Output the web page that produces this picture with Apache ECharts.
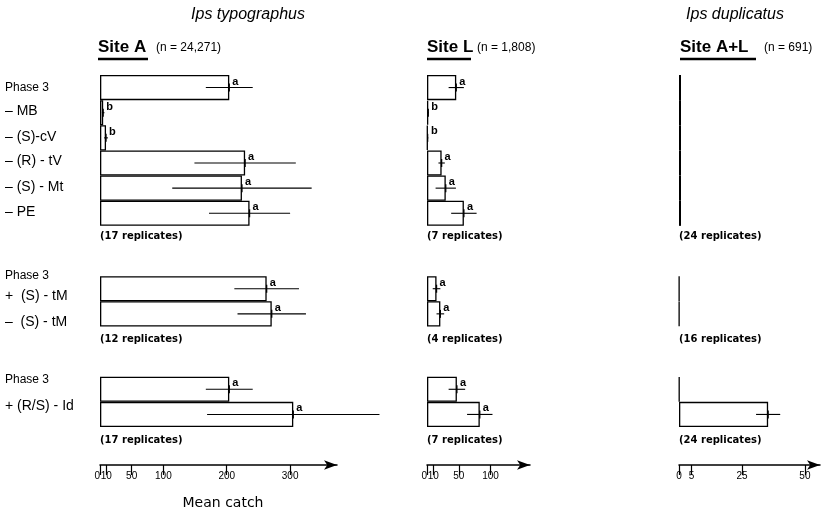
<!DOCTYPE html>
<html><head><meta charset="utf-8">
<script src="https://cdn.jsdelivr.net/npm/echarts@6/dist/echarts.min.js"></script>
<style>html,body{margin:0;padding:0;background:#fff}#c{width:836px;height:513px}</style>
</head><body><div id="c"></div>
<script>
// rows: 0-5 group 1, 8-9 group 2, 12-13 group 3 (6,7,10,11 are gaps)
const rows = ['0','1','2','3','4','5','6','7','8','9','10','11','12','13'];
const siteA       = [204, 5, 9.5, 229, 224, 236, null, null, 263, 271, null, null, 204, 305];
const siteAErr    = [37, 2, 3, 80, 110, 64, null, null, 51, 54, null, null, 37, 136];
const siteALet    = ['a','b','b','a','a','a','','','a','a','','','a','a'];
const siteL       = [46, 2, 1, 23, 29.5, 58, null, null, 15, 21, null, null, 47, 83];
const siteLErr    = [12, 1, 1, 5, 16, 20, null, null, 6, 6, null, null, 13, 20];
const siteLLet    = ['a','b','b','a','a','a','','','a','a','','','a','a'];
const siteAL      = [0.8, 0.8, 0.8, 0.8, 0.8, 0.8, null, null, 0.1, 0.1, null, null, 0.15, 35.4];
const siteALErr   = [0, 0, 0, 0, 0, 0, null, null, 0, 0, null, null, 0, 4.8];
const siteALLet   = ['','','','','','','','','','','','','',''];
const ticksA  = [0, 10, 50, 100, 200, 300];
const ticksL  = [0, 10, 50, 100];
const ticksAL = [0, 5, 25, 50];
const repA  = ['(17 replicates)', '(12 replicates)', '(17 replicates)'];
const repL  = ['(7 replicates)', '(4 replicates)', '(7 replicates)'];
const repAL = ['(24 replicates)', '(16 replicates)', '(24 replicates)'];
const leftLabels = [
  ['Phase 3', 89, 12], ['\u2013 MB', 112, 14], ['\u2013 (S)-cV', 138, 14], ['\u2013 (R) - tV', 162, 14],
  ['\u2013 (S) - Mt', 188, 14], ['\u2013 PE', 213, 14],
  ['Phase 3', 277, 12], ['+  (S) - tM', 297, 14], ['\u2013  (S) - tM', 323, 14],
  ['Phase 3', 381, 12], ['+ (R/S) - Id', 407, 14]
];

const chart = echarts.init(document.getElementById('c'));
const cols = [
  {left: 100, width: 237, max: 374, vals: siteA, err: siteAErr, let: siteALet, ticks: ticksA, rep: repA, zeroAlign: 'right'},
  {left: 427, width: 103, max: 162, vals: siteL, err: siteLErr, let: siteLLet, ticks: ticksL, rep: repL, zeroAlign: 'right'},
  {left: 679, width: 141, max: 56, vals: siteAL, err: siteALErr, let: siteALLet, ticks: ticksAL, rep: repAL, zeroAlign: 'center'}
];
const grids = [], xAxes = [], yAxes = [], series = [];
const labelStyle = {color: '#000', fontSize: 10, fontFamily: 'Liberation Sans', margin: 6, hideOverlap: false};
cols.forEach((c, i) => {
  grids.push({left: c.left, width: c.width, top: 75, height: 352});
  // main axis: line, ticks and labels except the first (0), which sits close to 10
  xAxes.push({
    gridIndex: i, type: 'value', min: 0, max: c.max, position: 'bottom', offset: 38,
    splitLine: {show: false},
    axisLine: {show: true, lineStyle: {color: '#000', width: 1.5}, symbol: ['none', 'arrow'], symbolSize: [7, 13]},
    axisTick: {show: true, length: 10, lineStyle: {color: '#000', width: 1.2}, customValues: c.ticks},
    axisLabel: Object.assign({customValues: c.ticks.slice(1)}, labelStyle)
  });
  yAxes.push({gridIndex: i, type: 'category', data: rows, inverse: true, show: false});
  series.push({
    type: 'bar', xAxisIndex: i, yAxisIndex: i, barCategoryGap: '0%',
    data: c.vals.map((v, k) => ({value: v, label: {formatter: c.let[k]}})),
    itemStyle: {color: '#fff', borderColor: '#000', borderWidth: 1.3},
    label: {show: true, position: ['100%', '0%'], offset: [3, 1], align: 'left', verticalAlign: 'top',
      color: '#000', fontSize: 11, fontWeight: 'bold', fontFamily: 'Liberation Sans'},
    animation: false, z: 2
  });
  series.push({
    type: 'custom', xAxisIndex: i, yAxisIndex: i, clip: false, z: 3,
    data: c.vals.map((v, k) => v == null ? null : [v, k, c.err[k]]).filter(d => d && d[2] > 0),
    encode: {x: 0, y: 1},
    renderItem: (params, api) => {
      const v = api.value(0), k = api.value(1), e = api.value(2);
      const p0 = api.coord([v - e, k]), p1 = api.coord([v + e, k]), pm = api.coord([v, k]);
      return {type: 'group', children: [
        {type: 'line', shape: {x1: p0[0], y1: p0[1], x2: p1[0], y2: p1[1]}, style: {stroke: '#000', lineWidth: 1.1}},
        {type: 'line', shape: {x1: pm[0], y1: pm[1] - 4, x2: pm[0], y2: pm[1] + 4}, style: {stroke: '#000', lineWidth: 1.3}}
      ]};
    },
    animation: false
  });
});
// second x axis per grid carrying only the "0" label
cols.forEach((c, i) => {
  xAxes.push({
    gridIndex: i, type: 'value', min: 0, max: c.max, position: 'bottom', offset: 38,
    splitLine: {show: false}, axisLine: {show: false}, axisTick: {show: false},
    axisLabel: Object.assign({customValues: [c.ticks[0]], align: c.zeroAlign}, labelStyle)
  });
});

const graphic = [];
const repY = [237, 340, 441];
cols.forEach(c => c.rep.forEach((t, g) => graphic.push({type: 'text', left: c.left, top: repY[g] - 6,
  style: {text: t, fontSize: 10, fontWeight: 'bold', fontFamily: 'DejaVu Sans', fill: '#000'}})));
leftLabels.forEach(l => graphic.push({type: 'text', left: 5, top: l[1] - l[2] / 2 - 1,
  style: {text: l[0], fontSize: l[2], fontFamily: 'Liberation Sans', fill: '#000'}}));
graphic.push(
  {type: 'text', x: 248, y: 15, style: {text: 'Ips typographus', fontSize: 16, fontStyle: 'italic', fontFamily: 'Liberation Sans', fill: '#000', align: 'center', verticalAlign: 'middle'}},
  {type: 'text', x: 735, y: 15, style: {text: 'Ips duplicatus', fontSize: 16, fontStyle: 'italic', fontFamily: 'Liberation Sans', fill: '#000', align: 'center', verticalAlign: 'middle'}},
  {type: 'text', x: 98, y: 47, style: {text: 'Site A', fontSize: 17, fontWeight: 'bold', fontFamily: 'Liberation Sans', fill: '#000', verticalAlign: 'middle'}},
  {type: 'text', x: 156, y: 48, style: {text: '(n = 24,271)', fontSize: 12, fontFamily: 'Liberation Sans', fill: '#000', verticalAlign: 'middle'}},
  {type: 'text', x: 427, y: 47, style: {text: 'Site L', fontSize: 17, fontWeight: 'bold', fontFamily: 'Liberation Sans', fill: '#000', verticalAlign: 'middle'}},
  {type: 'text', x: 477, y: 48, style: {text: '(n = 1,808)', fontSize: 12, fontFamily: 'Liberation Sans', fill: '#000', verticalAlign: 'middle'}},
  {type: 'text', x: 680, y: 47, style: {text: 'Site A+L', fontSize: 17, fontWeight: 'bold', fontFamily: 'Liberation Sans', fill: '#000', verticalAlign: 'middle'}},
  {type: 'text', x: 764, y: 48, style: {text: '(n = 691)', fontSize: 12, fontFamily: 'Liberation Sans', fill: '#000', verticalAlign: 'middle'}},
  {type: 'line', shape: {x1: 98, y1: 59, x2: 148, y2: 59}, style: {stroke: '#000', lineWidth: 2.5}},
  {type: 'line', shape: {x1: 427, y1: 59, x2: 471, y2: 59}, style: {stroke: '#000', lineWidth: 2.5}},
  {type: 'line', shape: {x1: 680, y1: 59, x2: 756, y2: 59}, style: {stroke: '#000', lineWidth: 2.5}},
  {type: 'text', x: 223, y: 503, style: {text: 'Mean catch', fontSize: 14, fontFamily: 'DejaVu Sans', fill: '#000', align: 'center', verticalAlign: 'middle'}}
);

chart.setOption({animation: false, grid: grids, xAxis: xAxes, yAxis: yAxes, series: series, graphic: graphic});
</script></body></html>
